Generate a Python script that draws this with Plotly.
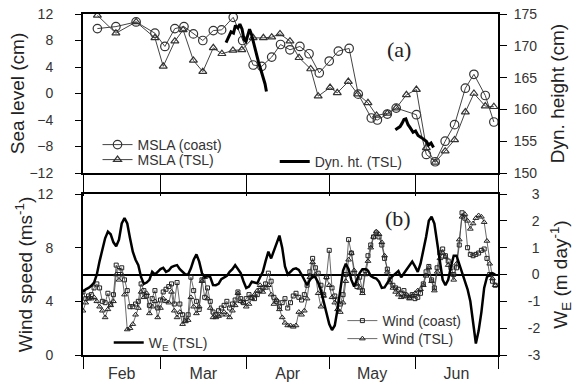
import pandas as pd
import plotly.graph_objects as go

BASE = pd.Timestamp("2003-02-01")

# ---------------- Panel (a) data ----------------
msla_coast_day = [5.2, 11.9, 19.2, 26.0, 29.6, 33.2, 36.5, 39.9, 43.3, 47.1, 50.1, 54.3, 57.7, 61.5,
                  64.6, 68.2, 71.4, 74.8, 78.4, 81.7, 85.4, 89.0, 92.3, 96.2, 99.5, 104.2, 106.4, 110.0,
                  113.2, 120.5, 124.1, 127.3, 130.9, 134.3, 138.2, 141.3, 145.4, 148.5]
msla_coast = [9.8, 10.1, 10.8, 9.1, 7.1, 9.8, 10.1, 9.0, 8.0, 9.5, 9.6, 11.5, 8.0, 4.3,
              4.1, 5.5, 7.4, 6.6, 7.1, 6.0, 3.1, 4.9, 6.4, 6.8, -0.1, -3.7, -4.0, -3.1,
              -2.2, -3.2, -9.2, -10.3, -7.2, -4.7, 0.8, 2.9, -0.3, -4.3]

msla_tsl_day = [5.2, 11.9, 19.2, 26.0, 29.0, 33.2, 36.2, 39.9, 43.3, 47.1, 50.2, 54.2, 57.4, 61.5,
                65.2, 68.2, 71.2, 74.8, 78.1, 82.3, 85.0, 89.3, 91.9, 95.9, 99.3, 103.0, 106.1, 110.0,
                113.2, 116.9, 120.5, 124.1, 127.3, 130.9, 134.3, 138.2, 141.3, 145.4, 148.5]
msla_tsl = [11.8, 9.1, 10.8, 8.4, 4.1, 7.9, 9.6, 5.0, 3.3, 6.9, 6.0, 6.5, 6.6, 8.4,
            8.4, 8.5, 9.0, 7.9, 5.4, 3.7, -0.4, 0.9, 0.1, 1.8, -0.1, -1.4, -3.3, -3.0,
            -2.2, -0.2, 0.6, -8.2, -10.4, -8.7, -7.0, -2.8, 0.0, -1.9, -2.0]

dyn1_day = [51.7, 52.6, 53.5, 54.4, 55.1, 56.0, 56.7, 57.5, 58.2, 58.9, 59.6, 60.2, 60.9, 61.6,
            62.5, 63.4, 64.3, 65.1, 65.8, 66.3]
dyn1 = [170.5, 171.5, 172.2, 172.0, 173.2, 172.8, 173.4, 172.6, 171.0, 170.7, 171.8, 172.6, 171.8,
        170.5, 169.0, 167.5, 166.2, 165.0, 164.0, 162.8]
dyn2_day = [112.9, 113.8, 114.6, 115.3, 116.0, 116.7, 117.5, 118.3, 119.3, 120.2, 121.1, 122.2,
            123.2, 124.1, 124.9, 125.8, 126.7]
dyn2 = [156.8, 157.0, 157.3, 157.8, 158.4, 158.5, 157.6, 157.1, 156.4, 156.6, 155.9, 155.6,
        155.3, 155.0, 154.4, 154.7, 154.0]

# ---------------- Panel (b) data (daily, from 1 Feb) ----------------
wind_coast = [4.7, 4.2, 4.4, 4.5, 5.0, 5.3, 5.0, 4.0, 3.9, 4.6, 3.8, 4.5, 6.7, 6.3, 6.5, 5.6, 4.8, 3.6,
              3.6, 3.8, 4.0, 5.3, 4.8, 4.4, 3.7, 4.2, 4.8, 3.5, 4.1, 4.7, 4.9, 5.1, 5.3, 3.8, 5.4, 3.8,
              3.0, 2.6, 3.0, 5.8, 4.8, 4.0, 3.4, 5.6, 4.3, 5.0, 4.0, 3.2, 3.0, 3.3, 3.5, 3.7, 4.0, 3.5,
              3.8, 4.1, 4.7, 4.2, 3.9, 4.2, 4.5, 4.3, 4.2, 4.5, 4.8, 5.0, 5.3, 6.1, 5.5, 4.3, 4.0, 3.6,
              3.9, 4.2, 3.5, 3.9, 4.4, 4.6, 4.3, 4.1, 4.5, 5.2, 6.2, 7.2, 6.5, 6.1, 5.2, 4.5, 5.8, 7.8,
              5.0, 4.4, 4.1, 3.8, 4.5, 6.0, 8.6, 7.6, 6.1, 5.1, 5.8, 4.8, 6.3, 7.4, 8.2, 8.8, 9.1, 8.8,
              8.2, 7.2, 6.4, 5.6, 5.2, 5.0, 4.9, 4.6, 4.8, 4.4, 4.3, 4.5, 4.2, 4.3, 4.6, 5.3, 6.2, 6.6,
              5.6, 5.0, 6.5, 7.6, 7.9, 7.4, 7.0, 6.5, 6.0, 6.5, 8.2, 10.6, 10.2, 8.0, 7.5, 7.4, 7.5,
              7.6, 7.8, 7.9, 7.2, 6.0, 5.5, 5.2]
wind_tsl = [3.3, 3.9, 4.2, 4.2, 4.3, 4.0, 3.6, 3.3, 2.8, 3.4, 3.7, 4.0, 6.0, 5.6, 6.0, 4.5, 1.9, 2.0,
            2.3, 3.0, 3.5, 4.7, 4.3, 4.6, 3.1, 3.6, 4.0, 2.8, 3.5, 4.2, 4.0, 3.9, 4.7, 3.3, 2.8, 3.2,
            2.3, 2.5, 2.6, 4.3, 3.6, 3.1, 3.6, 5.5, 5.8, 4.2, 3.5, 2.8, 2.8, 2.9, 3.0, 3.2, 3.0, 2.8,
            3.3, 3.7, 4.6, 4.0, 3.9, 3.6, 3.8, 4.2, 4.5, 4.8, 5.2, 4.7, 5.0, 5.2, 4.5, 3.8, 4.1, 3.4,
            2.8, 2.4, 2.2, 2.2, 2.1, 2.2, 3.2, 3.0, 3.3, 4.2, 5.8, 6.9, 6.0, 4.6, 3.6, 4.4, 5.8, 5.2,
            4.3, 3.9, 3.4, 3.2, 3.9, 5.5, 7.1, 7.6, 6.3, 5.3, 5.0, 4.6, 6.0, 7.0, 8.0, 8.8, 9.2, 9.0,
            8.4, 7.4, 6.2, 5.4, 5.0, 4.7, 4.5, 4.3, 4.4, 4.5, 4.2, 4.4, 4.6, 4.8, 4.9, 5.2, 5.9, 6.5,
            5.5, 4.8, 6.2, 7.2, 7.6, 7.3, 6.7, 6.0, 5.6, 6.8, 8.6, 10.3, 10.5, 10.0, 9.4, 9.8, 10.2,
            10.4, 10.3, 9.9, 8.5, 6.8, 5.7, 5.2]
we_tsl = [-0.64, -0.55, -0.5, -0.42, -0.3, 0.0, 0.5, 0.95, 1.35, 1.6, 1.5, 1.2, 1.05, 1.3, 1.9, 2.1,
          1.9, 1.35, 0.85, 0.55, 0.35, -0.1, -0.35, -0.3, -0.2, 0.1, 0.0, 0.1, 0.2, 0.25, 0.1, 0.15,
          0.28, 0.32, 0.35, 0.2, 0.08, 0.0, 0.0, 0.23, 0.55, 0.75, 0.48, 0.05, -0.1, -0.05, -0.1,
          -0.39, -0.4, -0.35, -0.17, -0.1, -0.05, 0.1, 0.2, 0.35, 0.2, 0.05, -0.25, -0.5, -0.45,
          -0.27, -0.3, -0.33, -0.1, 0.1, 0.5, 0.85, 0.6, 0.9, 1.2, 1.45, 1.0, 0.3, 0.0, 0.1, 0.2,
          0.23, 0.17, 0.0, -0.2, -0.4, -0.2, -0.08, -0.1, -0.3, -0.6, -1.0, -1.5, -1.85, -2.07,
          -1.9, -1.3, -0.5, 0.15, 0.4, 0.2, -0.2, -0.45, -0.2, 0.05, 0.2, 0.2, 0.14, -0.05, -0.12,
          -0.15, -0.27, -0.5, -0.48, -0.3, -0.15, -0.05, 0.05, 0.13, -0.1, 0.05, 0.2, 0.35, 0.48,
          0.3, 0.1, 0.4, 0.85, 1.4, 2.0, 2.15, 1.9, 1.2, 0.4, -0.2, -0.4, -0.2, 0.3, 0.7, 0.7, 0.4,
          0.1, -0.25, -0.55, -1.0, -1.8, -2.57, -2.1, -1.4, -0.5, -0.1, 0.0, 0.05, 0.0]

# tick labels
sl_ticks = [-12, -8, -4, 0, 4, 8, 12]
dh_ticks = [150, 155, 160, 165, 170, 175]
ws_ticks = [0, 4, 8, 12]
we_ticks = [-3, -2, -1, 0, 1, 2, 3]
we_ticktext = ["-3", "-2", "-1", "\u00a00", "\u00a01", "\u00a02", "\u00a03"]


def to_dates(days):
    return [None if d is None else BASE + pd.Timedelta(days=d) for d in days]


wind_dates = pd.date_range(BASE, periods=len(wind_coast), freq="D")

INK = "#222222"
fig = go.Figure()

fig.add_trace(go.Scatter(x=to_dates(msla_coast_day), y=msla_coast, xaxis="x2", yaxis="y3",
                         name="MSLA (coast)", mode="lines+markers", legend="legend",
                         line=dict(color="#444", width=1),
                         marker=dict(symbol="circle-open", size=8.5, color="#333", line=dict(width=1.2))))
fig.add_trace(go.Scatter(x=to_dates(msla_tsl_day), y=msla_tsl, xaxis="x2", yaxis="y3",
                         name="MSLA (TSL)", mode="lines+markers", legend="legend5",
                         line=dict(color="#444", width=1),
                         marker=dict(symbol="triangle-up-open", size=7, color="#333", line=dict(width=1.2))))
fig.add_trace(go.Scatter(x=to_dates(dyn1_day + [None] + dyn2_day), y=dyn1 + [None] + dyn2,
                         xaxis="x2", yaxis="y4", name="Dyn. ht. (TSL)", mode="lines",
                         legend="legend2", connectgaps=False,
                         line=dict(color="black", width=3)))

fig.add_trace(go.Scatter(x=wind_dates, y=wind_coast, xaxis="x", yaxis="y", name="Wind (coast)",
                         mode="lines+markers", legend="legend4",
                         line=dict(color="#444", width=0.8),
                         marker=dict(symbol="square-open", size=4, color="#222", line=dict(width=1))))
fig.add_trace(go.Scatter(x=wind_dates, y=wind_tsl, xaxis="x", yaxis="y", name="Wind (TSL)",
                         mode="lines+markers", legend="legend6",
                         line=dict(color="#444", width=0.8),
                         marker=dict(symbol="triangle-up-open", size=5, color="#222", line=dict(width=1))))
fig.add_trace(go.Scatter(x=wind_dates, y=we_tsl, xaxis="x", yaxis="y2", name="W<sub>E</sub> (TSL)",
                         mode="lines", legend="legend3",
                         line=dict(color="black", width=2.5)))

axis_common = dict(showline=True, linewidth=2, linecolor="black", showgrid=False, zeroline=False,
                   ticks="outside", tickcolor="black", tickwidth=1.2, automargin=False)
title_font = dict(size=19, color=INK)
tick_font = dict(size=14, color="#333")

yb_top = 0.5337
yb_bot = 0.4721


def row_y(py):
    return (355 - py) / 341


def legend_at(x, py):
    return dict(x=x, y=row_y(py), xanchor="left", yanchor="middle", bgcolor="rgba(0,0,0,0)",
                font=dict(size=14, color="#333"), itemwidth=30)


fig.update_layout(
    width=576, height=383,
    showlegend=True,
    margin=dict(l=83, r=78, t=14, b=28, autoexpand=False),
    paper_bgcolor="white", plot_bgcolor="white",
    font=dict(family="Liberation Sans, Arial, sans-serif", size=14, color=INK),
    xaxis=dict(axis_common, domain=[0, 1], anchor="y", type="date",
               range=[BASE, BASE + pd.Timedelta(days=150)],
               dtick="M1", tick0=BASE, tickformat="%b", ticklabelmode="period",
               ticklen=12, mirror=True, tickfont=dict(size=16, color="#333"),
               ticklabelstandoff=-9),
    xaxis2=dict(axis_common, domain=[0, 1], anchor="y3", type="date", matches="x",
                dtick="M1", tick0=BASE, showticklabels=False, ticklen=21, mirror=True),
    yaxis=dict(axis_common, domain=[0, yb_bot], anchor="x", range=[0, 12], tickvals=ws_ticks,
               ticklen=6, ticklabelstandoff=19, tickfont=tick_font, mirror=True,
               title=dict(text="Wind speed (ms<sup>-1</sup>)", font=title_font, standoff=0)),
    yaxis2=dict(axis_common, overlaying="y", side="right", anchor="x", range=[-3, 3],
                tickvals=we_ticks, ticktext=we_ticktext, ticklen=7, ticklabelstandoff=18,
                tickfont=tick_font,
                zeroline=True, zerolinecolor="black", zerolinewidth=1.5,
                title=dict(text="W<sub>E</sub> (m day<sup>-1</sup>)", font=title_font, standoff=14)),
    yaxis3=dict(axis_common, domain=[yb_top, 1], anchor="x2", range=[-12, 12], tickvals=sl_ticks,
                ticklen=6, ticklabelstandoff=19, tickfont=tick_font, mirror=True,
                title=dict(text="Sea level (cm)", font=title_font, standoff=0)),
    yaxis4=dict(axis_common, overlaying="y3", side="right", anchor="x2", range=[150, 175],
                tickvals=dh_ticks, ticklen=7, ticklabelstandoff=4, tickfont=tick_font,
                title=dict(text="Dyn. height (cm)", font=title_font, standoff=14)),
    legend=legend_at(0.035, 145),
    legend5=legend_at(0.035, 160),
    legend2=legend_at(0.462, 162),
    legend3=legend_at(0.062, 343),
    legend4=legend_at(0.625, 321),
    legend6=legend_at(0.625, 339),
    annotations=[
        dict(text="(a)", xref="paper", yref="paper", x=0.795, y=0.938, showarrow=False,
             font=dict(family="Liberation Serif, Times New Roman, serif", size=22, color=INK)),
        dict(text="(b)", xref="paper", yref="paper", x=0.795, y=0.399, showarrow=False,
             font=dict(family="Liberation Serif, Times New Roman, serif", size=22, color=INK)),
    ],
)

fig.write_html("out.html", post_script="document.body.style.margin='0';",
               config={"displayModeBar": False})
